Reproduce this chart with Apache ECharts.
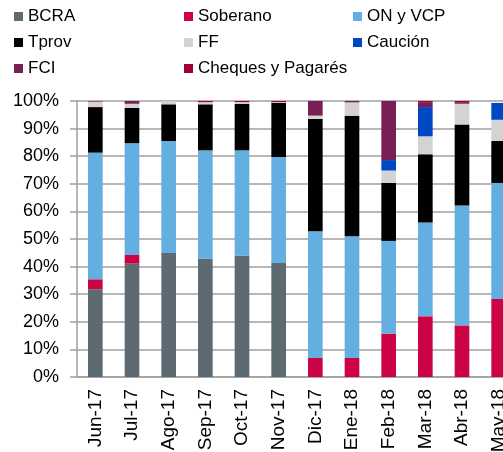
<!DOCTYPE html>
<html>
<head>
<meta charset="utf-8">
<script src="https://cdn.jsdelivr.net/npm/echarts@6/dist/echarts.min.js"></script>
<style>
  html, body { margin: 0; padding: 0; background: #fff; overflow: hidden; }
  #chart { width: 517px; height: 452px; }
</style>
</head>
<body>
<div id="chart"></div>
<script>
const months = ["Jun-17", "Jul-17", "Ago-17", "Sep-17", "Oct-17", "Nov-17",
  "Dic-17", "Ene-18", "Feb-18", "Mar-18", "Abr-18", "May-18"];

// share of each instrument, % of total
const bcra     = [31.8, 41.1, 44.9, 42.8, 44.0, 41.3, 0, 0, 0, 0, 0, 0];
const soberano = [3.6, 3.1, 0, 0, 0, 0, 6.9, 6.9, 15.7, 22.0, 18.7, 28.3];
const onVcp    = [45.9, 40.5, 40.6, 39.3, 38.1, 38.4, 45.9, 44.1, 33.6, 34.0, 43.4, 42.0];
const tprov    = [16.5, 12.8, 13.3, 16.7, 16.9, 19.6, 40.7, 43.7, 21.0, 24.7, 29.4, 15.2];
const ff       = [2.0, 1.5, 1.2, 0.8, 0.6, 0.3, 1.2, 4.8, 4.5, 6.5, 7.5, 7.7];
const caucion  = [0, 0, 0, 0, 0, 0, 0, 0, 3.8, 10.6, 0, 6.1];
const fci      = [0, 1.0, 0, 0, 0, 0, 5.3, 0.5, 21.4, 1.8, 0.6, 0];
const cheques  = [0.2, 0, 0, 0.4, 0.4, 0.4, 0, 0, 0, 0.4, 0.4, 0];

const chart = echarts.init(document.getElementById("chart"));

const font = "Liberation Sans, Arial, sans-serif";

function bar(name, data, color) {
  return {
    name,
    type: "bar",
    stack: "total",
    data,
    barWidth: "40%",
    itemStyle: { color },
    emphasis: { disabled: true },
  };
}

function legend(left, names) {
  return {
    orient: "vertical",
    left,
    top: 8,
    padding: 0,
    icon: "rect",
    itemWidth: 9,
    itemHeight: 9,
    itemGap: 9,
    selectedMode: false,
    data: names,
    textStyle: { fontFamily: font, fontSize: 17, color: "#000", lineHeight: 16 },
  };
}

chart.setOption({
  animation: false,
  legend: [
    legend(14, ["BCRA", "Tprov", "FCI"]),
    legend(184, ["Soberano", "FF", "Cheques y Pagarés"]),
    legend(353, ["ON y VCP", "Caución"]),
  ],
  grid: { left: 77, right: 0, top: 101, bottom: 75, outerBoundsMode: "none" },
  xAxis: {
    type: "category",
    data: months,
    axisLine: { lineStyle: { color: "#a0a0a0", width: 1.5 } },
    axisTick: { length: 5, lineStyle: { color: "#a0a0a0", width: 1.5 } },
    axisLabel: {
      rotate: 90,
      margin: 12,
      fontFamily: font,
      fontSize: 19,
      color: "#000",
    },
  },
  yAxis: {
    type: "value",
    min: 0,
    max: 100,
    interval: 10,
    axisLine: { show: true, lineStyle: { color: "#a0a0a0", width: 1.5 } },
    axisTick: { show: true, length: 7, lineStyle: { color: "#a0a0a0", width: 1.5 } },
    splitLine: { lineStyle: { color: "#a0a0a0", width: 1.5 } },
    axisLabel: {
      formatter: "{value}%",
      margin: 18,
      fontFamily: font,
      fontSize: 18,
      color: "#000",
    },
  },
  series: [
    bar("BCRA", bcra, "#5d6a72"),
    bar("Soberano", soberano, "#cc0446"),
    bar("ON y VCP", onVcp, "#63afe2"),
    bar("Tprov", tprov, "#000000"),
    bar("FF", ff, "#d3d3d3"),
    bar("Caución", caucion, "#0048c2"),
    bar("FCI", fci, "#7a1f55"),
    bar("Cheques y Pagarés", cheques, "#a3003a"),
  ],
});
</script>
</body>
</html>
